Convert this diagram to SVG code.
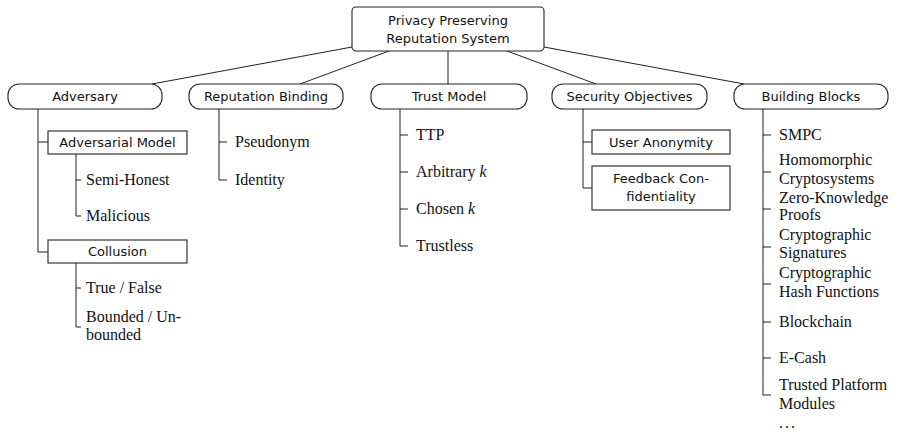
<svg xmlns="http://www.w3.org/2000/svg" width="902" height="437" viewBox="0 0 902 437">
<style>
  .box{fill:#fff;stroke:#222;stroke-width:1.1}
  .sans{font-family:"DejaVu Sans",sans-serif;font-size:13px;fill:#111;text-anchor:middle}
  .serif{font-family:"Liberation Serif",serif;font-size:16px;fill:#111}
  .ln{fill:none;stroke:#222;stroke-width:1}
</style>
<rect width="902" height="437" fill="#fff"/>
<g id="connectors" class="ln">
  <line x1="352" y1="47" x2="152" y2="84"/>
  <line x1="389" y1="51" x2="300" y2="84"/>
  <line x1="448" y1="51" x2="448" y2="84"/>
  <line x1="507" y1="51" x2="596" y2="84"/>
  <line x1="544" y1="47" x2="744" y2="84"/>
  <!-- Adversary -->
  <path d="M38 109 V252 H48 M38 142 H48"/>
  <path d="M76 154 V216 H81 M76 180 H81"/>
  <path d="M76 263 V327 H81 M76 288 H81"/>
  <!-- Reputation Binding -->
  <path d="M219 109 V180 H227 M219 142 H227"/>
  <!-- Trust Model -->
  <path d="M400 109 V246 H408 M400 135 H408 M400 172 H408 M400 209 H408"/>
  <!-- Security Objectives -->
  <path d="M583 109 V188 H592 M583 142 H592"/>
  <!-- Building Blocks -->
  <path d="M763 109 V395 H771 M763 135 H771 M763 172 H771 M763 209 H771 M763 247 H771 M763 284 H771 M763 322 H771 M763 358 H771"/>
</g>
<g id="root">
  <rect class="box" x="352" y="7" width="192" height="44" rx="4"/>
  <text class="sans" x="448" y="25">Privacy Preserving</text>
  <text class="sans" x="448" y="43">Reputation System</text>
</g>
<g id="adversary">
  <rect class="box" x="8" y="84" width="154" height="25" rx="11"/>
  <text class="sans" x="85" y="101">Adversary</text>
</g>
<g id="reputation-binding">
  <rect class="box" x="189" y="84" width="154" height="25" rx="11"/>
  <text class="sans" x="266" y="101">Reputation Binding</text>
</g>
<g id="trust-model">
  <rect class="box" x="371" y="84" width="156" height="25" rx="11"/>
  <text class="sans" x="449" y="101">Trust Model</text>
</g>
<g id="security-objectives">
  <rect class="box" x="552" y="84" width="155" height="25" rx="11"/>
  <text class="sans" x="629.5" y="101">Security Objectives</text>
</g>
<g id="building-blocks">
  <rect class="box" x="734" y="84" width="154" height="25" rx="11"/>
  <text class="sans" x="811" y="101">Building Blocks</text>
</g>
<g id="adversarial-model">
  <rect class="box" x="48" y="131" width="139" height="23"/>
  <text class="sans" x="117.5" y="147">Adversarial Model</text>
</g>
<g id="semi-honest"><text class="serif" x="86" y="185">Semi-Honest</text></g>
<g id="malicious"><text class="serif" x="86" y="221">Malicious</text></g>
<g id="collusion">
  <rect class="box" x="48" y="240" width="139" height="23"/>
  <text class="sans" x="117.5" y="256">Collusion</text>
</g>
<g id="true-false"><text class="serif" x="86" y="293">True / False</text></g>
<g id="bounded"><text class="serif" x="86" y="322">Bounded / Un-<tspan x="86" y="340">bounded</tspan></text></g>
<g id="pseudonym"><text class="serif" x="235" y="147">Pseudonym</text></g>
<g id="identity"><text class="serif" x="235" y="185">Identity</text></g>
<g id="ttp"><text class="serif" x="416" y="140">TTP</text></g>
<g id="arbitrary-k"><text class="serif" x="416" y="177">Arbitrary <tspan font-style="italic">k</tspan></text></g>
<g id="chosen-k"><text class="serif" x="416" y="214">Chosen <tspan font-style="italic">k</tspan></text></g>
<g id="trustless"><text class="serif" x="416" y="251">Trustless</text></g>
<g id="user-anonymity">
  <rect class="box" x="592" y="130" width="138" height="24"/>
  <text class="sans" x="661" y="147">User Anonymity</text>
</g>
<g id="feedback-confidentiality">
  <rect class="box" x="592" y="166" width="138" height="44"/>
  <text class="sans" x="661" y="183">Feedback Con-</text>
  <text class="sans" x="661" y="201">fidentiality</text>
</g>
<g id="smpc"><text class="serif" x="779" y="140">SMPC</text></g>
<g id="homomorphic"><text class="serif" x="779" y="165">Homomorphic<tspan x="779" y="184">Cryptosystems</tspan></text></g>
<g id="zkp"><text class="serif" x="779" y="203">Zero-Knowledge<tspan x="779" y="220">Proofs</tspan></text></g>
<g id="signatures"><text class="serif" x="779" y="240">Cryptographic<tspan x="779" y="258">Signatures</tspan></text></g>
<g id="hash"><text class="serif" x="779" y="278">Cryptographic<tspan x="779" y="297">Hash Functions</tspan></text></g>
<g id="blockchain"><text class="serif" x="779" y="327">Blockchain</text></g>
<g id="ecash"><text class="serif" x="779" y="363">E-Cash</text></g>
<g id="tpm"><text class="serif" x="779" y="390">Trusted Platform<tspan x="779" y="409">Modules</tspan></text></g>
<g id="more"><text class="serif" x="779" y="428" letter-spacing="2">...</text></g>
</svg>
